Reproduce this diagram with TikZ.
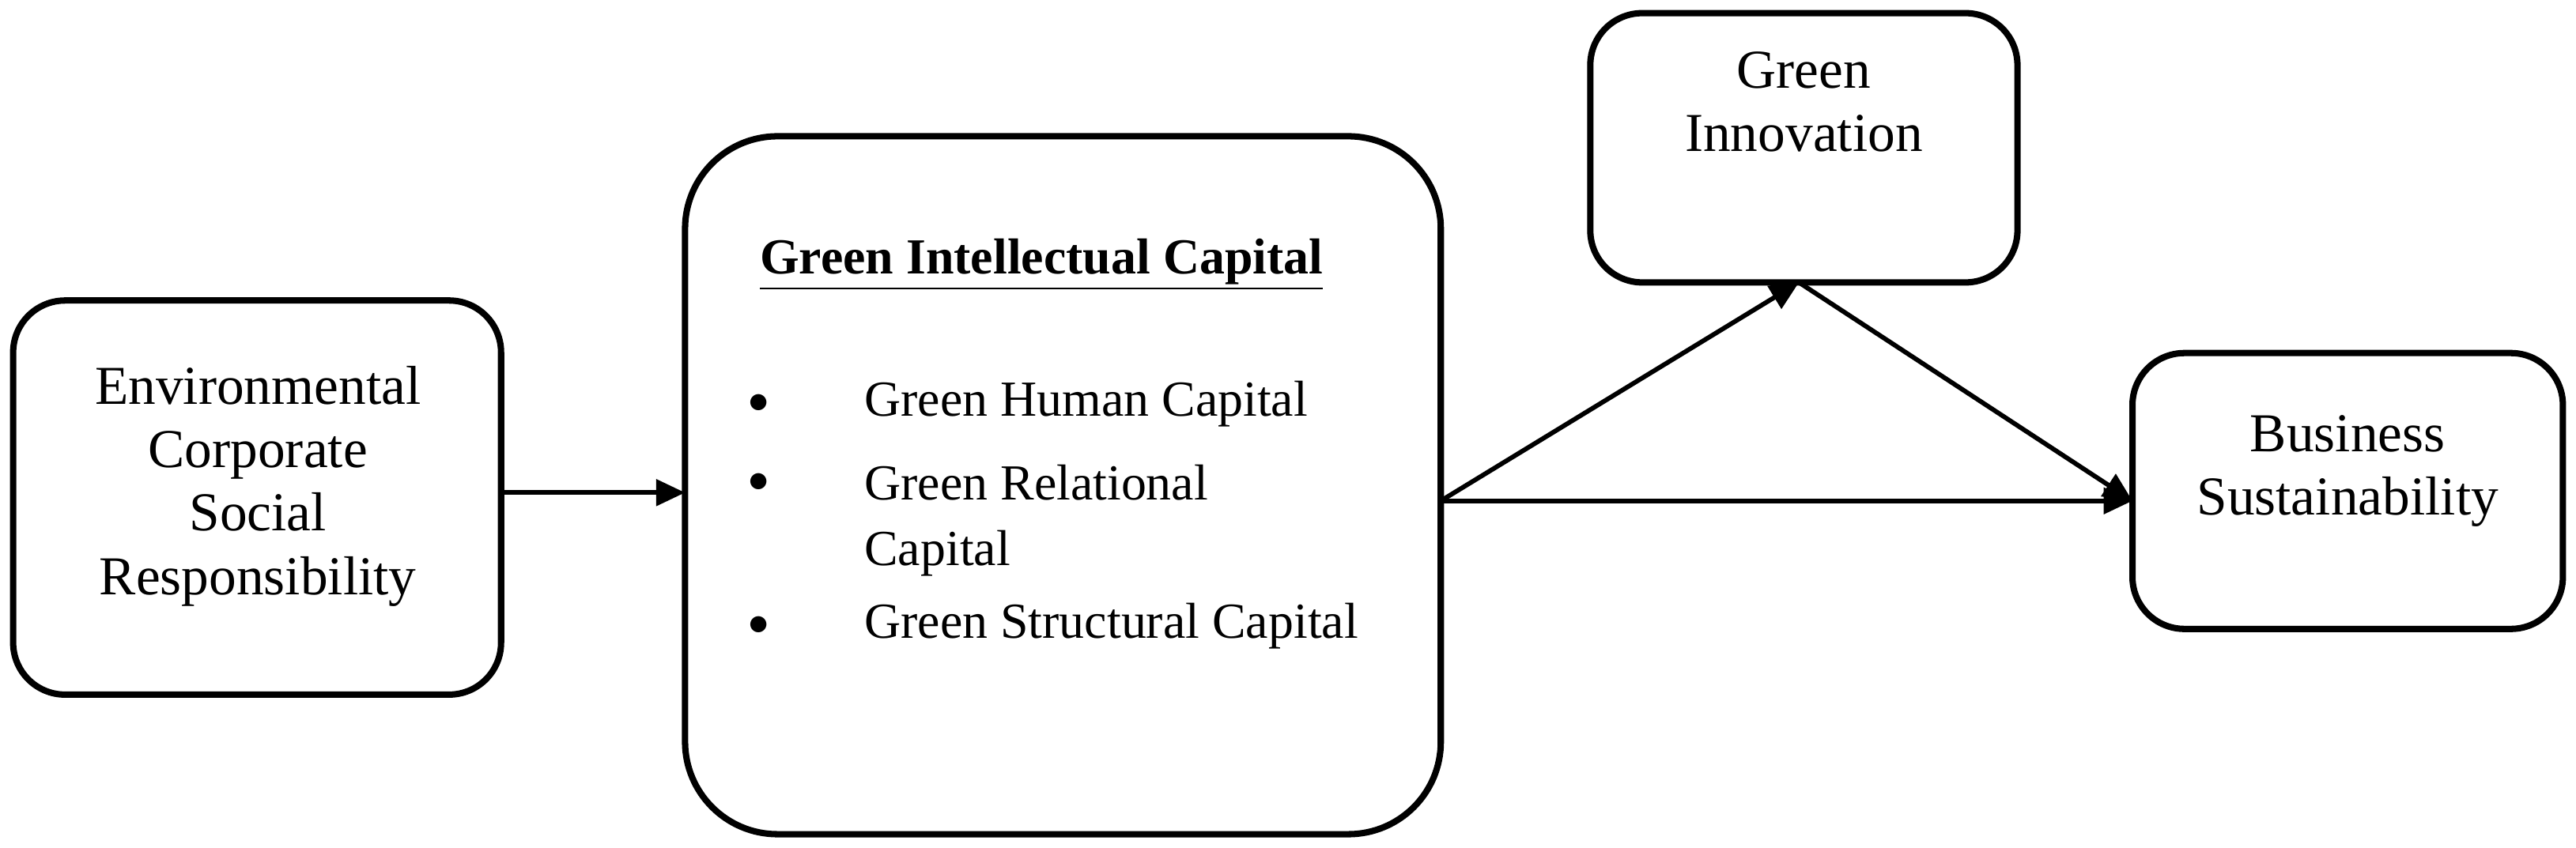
\documentclass[tikz,border=0pt]{standalone}
\usepackage{fontspec}
\setmainfont{Liberation Serif}
\usetikzlibrary{arrows.meta}
\begin{document}
\begin{tikzpicture}[x=0.02cm,y=-0.02cm,
  box/.style={draw,line width=2.2pt,rounded corners=18pt,inner sep=0pt},
  txt/.style={align=center,font=\fontsize{19}{22}\selectfont},
  arr/.style={line width=1.6pt,-{Triangle[length=10pt,width=9pt]}}]
\useasboundingbox (0,0) rectangle (1568,516);
\draw[box] (8,183) rectangle (305,423);
\draw[box,rounded corners=32pt] (417,83) rectangle (877,508);
\draw[box] (968,8) rectangle (1228,172);
\draw[box] (1298,215) rectangle (1560,383);
\node[txt] (ecsr) at (157,296) {Environmental\\Corporate\\Social\\Responsibility};
\node[txt] (gi) at (1098,62) {Green\\Innovation};
\node[txt] (bs) at (1429,287) {Business\\Sustainability};
\node[txt,font=\fontsize{17.5}{21}\selectfont\bfseries] (title) at (634,161) {\underline{Green Intellectual Capital}};
\foreach \y/\t in {246/{Green Human Capital},294/{Green Relational},381/{Green Structural Capital}}
  {\node[font=\Large] at (462,\y) {$\bullet$};
   \node[txt,anchor=west,font=\fontsize{17.5}{21}\selectfont] at (520,\y) {\t};}
\node[txt,anchor=west,font=\fontsize{17.5}{21}\selectfont] at (520,337) {Capital};
\coordinate (a1) at (305,300); \coordinate (a2) at (417,300);
\coordinate (g) at (877,305); \coordinate (b) at (1298,305);
\coordinate (gb) at (1095,172);
\draw[arr] (a1) -- (a2);
\draw[arr] (g) -- (b);
\draw[arr] (g) -- (gb);
\draw[arr] (gb) -- (b);
\end{tikzpicture}
\end{document}
